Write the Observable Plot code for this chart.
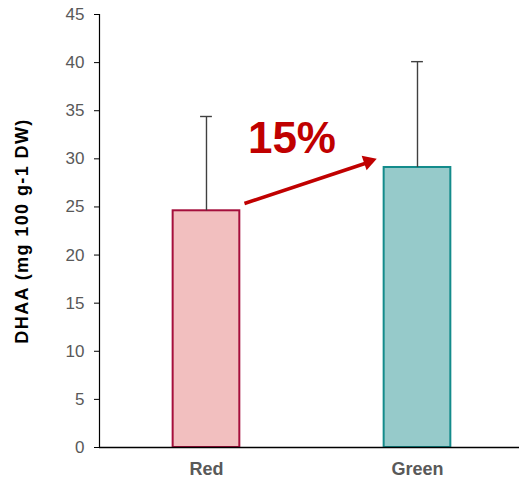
<!DOCTYPE html>
<html>
<head>
<meta charset="utf-8">
<script src="https://cdn.jsdelivr.net/npm/d3@7"></script>
<script src="https://cdn.jsdelivr.net/npm/@observablehq/plot@0.6"></script>
<style>
  html, body { margin: 0; padding: 0; background: #fff; }
  #chart { width: 519px; height: 482px; }
</style>
</head>
<body>
<div id="chart"></div>
<script>
// ---- data ----
const categories = ["Red", "Green"];
const means = [24.6, 29.1];
const errorsUp = [9.8, 11.0];
const yTicks = [0, 5, 10, 15, 20, 25, 30, 35, 40, 45];
const yLabel = "DHAA (mg 100 g-1 DW)";
const annotationText = "15%";
// annotation positions in data units (x: category index, y: DHAA)
const arrowFrom = [1.18, 25.36];
const arrowTo = [1.758, 29.57];
const arrowHeadAt = [1.767, 29.71];
const annotationAt = [1.405, 32.1];

// ---- styles ----
const barFills = ["#F2BFBF", "#96CACA"];
const barStrokes = ["#A50F3C", "#138B8B"];
const barHalf = 0.158;
const capHalf = 0.028;
const xDomain = [0.493, 2.5];

const rows = categories.map((c, i) => ({
  i: i + 1, category: c, mean: means[i], upper: means[i] + errorsUp[i],
  fill: barFills[i], stroke: barStrokes[i]
}));

const chart = Plot.plot({
  width: 519,
  height: 482,
  marginLeft: 99,
  marginRight: 0,
  marginTop: 14,
  marginBottom: 35,
  style: {fontFamily: "'Liberation Sans', Arial, sans-serif", background: "#fff"},
  x: {domain: xDomain, range: [99, 522.5]},
  y: {domain: [0, 45]},
  marks: [
    Plot.rectY(rows, {
      x1: d => d.i - barHalf, x2: d => d.i + barHalf,
      y1: 0, y2: "mean",
      fill: "fill", stroke: "stroke", strokeWidth: 2
    }),
    Plot.ruleX(rows, {x: "i", y1: "mean", y2: "upper", stroke: "#404040", strokeWidth: 1.4}),
    Plot.ruleY(rows, {y: "upper", x1: d => d.i - capHalf, x2: d => d.i + capHalf, stroke: "#404040", strokeWidth: 1.4}),
    Plot.ruleY([0], {stroke: "#000", strokeWidth: 1.4}),
    Plot.ruleX([xDomain[0]], {stroke: "#000", strokeWidth: 1.2}),
    Plot.axisY({
      ticks: yTicks, tickSize: 5, tickPadding: 10, fontSize: 17,
      fill: "#595959", stroke: "#000", label: null
    }),
    Plot.axisX({
      ticks: categories.map((c, i) => i + 1),
      tickFormat: v => categories[v - 1],
      tickSize: 0, tickPadding: 15, fontSize: 18, fontWeight: "bold",
      fill: "#595959", label: null
    }),
    Plot.text([yLabel], {
      frameAnchor: "left", textAnchor: "middle", rotate: -90, dx: -77.7,
      fontSize: 18, fontWeight: "bold", fill: "#000",
      text: d => d
    }),
    Plot.link([0], {
      x1: () => arrowFrom[0], y1: () => arrowFrom[1],
      x2: () => arrowTo[0], y2: () => arrowTo[1],
      stroke: "#C00000", strokeWidth: 3.6
    }),
    Plot.dot([0], {
      x: () => arrowHeadAt[0], y: () => arrowHeadAt[1],
      symbol: "triangle", r: 5.7, rotate: 71.3,
      fill: "#C00000", stroke: "none"
    }),
    Plot.text([annotationText], {
      x: () => annotationAt[0], y: () => annotationAt[1],
      text: d => d, fontSize: 44, fontWeight: "bold", fill: "#C00000"
    })
  ]
});
chart.querySelectorAll("text").forEach(t => {
  if (t.textContent === yLabel) t.setAttribute("letter-spacing", "1.4");
});
document.getElementById("chart").appendChild(chart);
</script>
</body>
</html>
